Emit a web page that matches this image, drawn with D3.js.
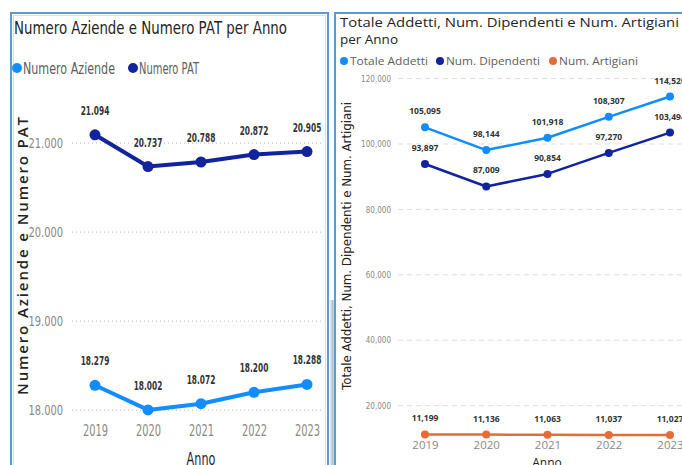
<!DOCTYPE html>
<html><head><meta charset="utf-8">
<script src="https://cdn.jsdelivr.net/npm/d3@7"></script>
<style>
html,body{margin:0;padding:0;background:#fff;overflow:hidden}
svg{display:block}
text{font-family:"DejaVu Sans",sans-serif}
.sans{font-family:"Open Sans","DejaVu Sans",sans-serif}
</style></head><body>
<svg id="c" width="682" height="465"></svg>
<script>
const years = ["2019","2020","2021","2022","2023"];
const numeroAziende = [18279, 18002, 18072, 18200, 18288];
const numeroPAT = [21094, 20737, 20788, 20872, 20905];
const leftTicks = [18000, 19000, 20000, 21000];
const totaleAddetti = [105095, 98144, 101918, 108307, 114520];
const numDipendenti = [93897, 87009, 90854, 97270, 103494];
const numArtigiani = [11199, 11136, 11063, 11037, 11027];
const rightTicks = [20000, 40000, 60000, 80000, 100000, 120000];
const colLight = "#118DFF", colDark = "#12239E", colOrange = "#E66C37";

const svg = d3.select("#c");
const itFmt = d3.formatLocale({decimal:",", thousands:".", grouping:[3], currency:["","€"]}).format(",");
const enFmt = d3.format(",");

function squeeze(sel, f){
  sel.each(function(){
    const l = this.getComputedTextLength();
    d3.select(this).attr("textLength", l*f).attr("lengthAdjust","spacingAndGlyphs");
  });
  return sel;
}
function fit(sel, w){
  sel.attr("textLength", w).attr("lengthAdjust","spacingAndGlyphs");
  return sel;
}

// shadows
const defs = svg.append("defs");
const g1 = defs.append("linearGradient").attr("id","sh").attr("x1","0").attr("x2","1");
g1.append("stop").attr("offset","0").attr("stop-color","#888").attr("stop-opacity",0.0);
g1.append("stop").attr("offset","0.6").attr("stop-color","#777").attr("stop-opacity",0.5);
g1.append("stop").attr("offset","1").attr("stop-color","#999").attr("stop-opacity",0.15);
svg.append("rect").attr("x",329).attr("y",300).attr("width",6).attr("height",165).attr("fill","url(#sh)");

// panel borders
svg.append("rect").attr("x",11).attr("y",13).attr("width",317).attr("height",470)
  .attr("fill","none").attr("stroke","#5B9BD5").attr("stroke-width",2);
svg.append("rect").attr("x",13.5).attr("y",15.5).attr("width",312).attr("height",470)
  .attr("fill","none").attr("stroke","#CFE2F3").attr("stroke-width",1);
svg.append("rect").attr("x",335).attr("y",13).attr("width",360).attr("height",470)
  .attr("fill","none").attr("stroke","#5B9BD5").attr("stroke-width",2);

// ================= LEFT CHART =================
const L = svg.append("g");
fit(L.append("text").attr("x",14).attr("y",34)
  .attr("font-size",18.5).attr("fill","#252423").text("Numero Aziende e Numero PAT per Anno"), 273);

const lLeg = [["Numero Aziende",colLight,17,92],["Numero PAT",colDark,133,60]];
lLeg.forEach(d=>{
  L.append("circle").attr("cx",d[2]).attr("cy",68).attr("r",5).attr("fill",d[1]);
  fit(L.append("text").attr("x",d[2]+6).attr("y",73.5)
    .attr("font-size",15).attr("fill","#605E5C").text(d[0]), d[3]);
});

const xL = d3.scalePoint().domain(years).range([95,307]);
const yL = d3.scaleLinear().domain([17900,21350]).range([419,112]);

L.append("g").selectAll("line").data(leftTicks).join("line")
  .attr("x1",72).attr("x2",324).attr("y1",d=>yL(d)).attr("y2",d=>yL(d))
  .attr("stroke","#C8C6C4").attr("stroke-width",1.2).attr("stroke-dasharray","1,3");

const yAxL = L.append("g").attr("transform","translate(63,0)")
  .call(d3.axisLeft(yL).tickValues(leftTicks).tickFormat(itFmt).tickSize(0).tickPadding(0));
yAxL.select(".domain").remove();
squeeze(yAxL.selectAll("text").attr("font-size",14.5).attr("fill","#8A8886").attr("font-family",null), 0.68);

const xAxL = L.append("g").attr("transform","translate(0,425)")
  .call(d3.axisBottom(xL).tickSize(0).tickPadding(0));
xAxL.select(".domain").remove();
squeeze(xAxL.selectAll("text").attr("font-size",15).attr("fill","#8A8886").attr("font-family",null), 0.66);

squeeze(L.append("text").attr("x",201).attr("y",465).attr("text-anchor","middle")
  .attr("font-size",17).attr("fill","#252423").text("Anno"), 0.66);

L.append("text").attr("class","sans").attr("font-weight","600")
  .attr("transform","translate(28,256) rotate(-90)").attr("text-anchor","middle")
  .attr("font-size",15).attr("fill","#252423")
  .attr("textLength",278).attr("lengthAdjust","spacing").text("Numero Aziende e Numero PAT");

const lineL = d3.line().x((d,i)=>xL(years[i])).y(d=>yL(d));
[[numeroPAT,colDark],[numeroAziende,colLight]].forEach(([vals,col])=>{
  L.append("path").attr("d",lineL(vals)).attr("fill","none").attr("stroke",col)
    .attr("stroke-width",4).attr("stroke-linejoin","round");
  L.append("g").selectAll("circle").data(vals).join("circle")
    .attr("cx",(d,i)=>xL(years[i])).attr("cy",d=>yL(d)).attr("r",5.5).attr("fill",col);
  squeeze(L.append("g").selectAll("text").data(vals).join("text")
    .attr("x",(d,i)=>xL(years[i])).attr("y",d=>yL(d)-20).attr("text-anchor","middle")
    .attr("font-size",12).attr("font-weight","bold").attr("fill","#333")
    .text(d=>itFmt(d)), 0.62);
});

// ================= RIGHT CHART =================
const R = svg.append("g");
fit(R.append("text").attr("class","sans").attr("x",340).attr("y",27).attr("font-size",13.5)
  .attr("fill","#252423").text("Totale Addetti, Num. Dipendenti e Num. Artigiani"), 339);
fit(R.append("text").attr("class","sans").attr("x",340).attr("y",44).attr("font-size",13.5)
  .attr("fill","#252423").text("per Anno"), 58);

const rLeg = [["Totale Addetti",colLight,344,78],["Num. Dipendenti",colDark,440,94],["Num. Artigiani",colOrange,553,79]];
rLeg.forEach(d=>{
  R.append("circle").attr("cx",d[2]).attr("cy",61).attr("r",4).attr("fill",d[1]);
  fit(R.append("text").attr("class","sans").attr("x",d[2]+6).attr("y",65)
    .attr("font-size",11).attr("fill","#605E5C").text(d[0]), d[3]);
});

const xR = d3.scalePoint().domain(years).range([425,670]);
const yR = d3.scaleLinear().domain([0,125000]).range([471,62.25]);

R.append("g").selectAll("line").data(rightTicks).join("line")
  .attr("x1",398).attr("x2",682).attr("y1",d=>yR(d)).attr("y2",d=>yR(d))
  .attr("stroke","#E1DFDD").attr("stroke-width",1).attr("stroke-dasharray","5,4");

const yAxR = R.append("g").attr("transform","translate(391,0)")
  .call(d3.axisLeft(yR).tickValues(rightTicks).tickFormat(enFmt).tickSize(0).tickPadding(0));
yAxR.select(".domain").remove();
squeeze(yAxR.selectAll("text").attr("font-size",8.5).attr("fill","#8A8886").attr("font-family",null), 0.85);

const xAxR = R.append("g").attr("transform","translate(0,441)")
  .call(d3.axisBottom(xR).tickSize(0).tickPadding(0));
xAxR.select(".domain").remove();
xAxR.selectAll("text").attr("class","sans").attr("font-size",11.5).attr("fill","#8A8886").attr("font-family",null);

R.append("text").attr("class","sans").attr("x",547).attr("y",467).attr("text-anchor","middle")
  .attr("font-size",12).attr("fill","#252423").text("Anno");

R.append("text")
  .attr("transform","translate(351,246) rotate(-90)").attr("text-anchor","middle")
  .attr("font-size",12).attr("fill","#252423")
  .attr("textLength",288).attr("lengthAdjust","spacingAndGlyphs")
  .text("Totale Addetti, Num. Dipendenti e Num. Artigiani");

const lineR = d3.line().x((d,i)=>xR(years[i])).y(d=>yR(d));
[[totaleAddetti,colLight],[numDipendenti,colDark],[numArtigiani,colOrange]].forEach(([vals,col])=>{
  R.append("path").attr("d",lineR(vals)).attr("fill","none").attr("stroke",col)
    .attr("stroke-width",2.5).attr("stroke-linejoin","round");
  R.append("g").selectAll("circle").data(vals).join("circle")
    .attr("cx",(d,i)=>xR(years[i])).attr("cy",d=>yR(d)).attr("r",4).attr("fill",col);
  R.append("g").selectAll("text").data(vals).join("text").attr("class","sans")
    .attr("x",(d,i)=>xR(years[i])).attr("y",d=>yR(d)-13).attr("text-anchor","middle")
    .attr("font-size",8.5).attr("font-weight","bold").attr("fill","#333")
    .text(d=>enFmt(d));
});
</script></body></html>
